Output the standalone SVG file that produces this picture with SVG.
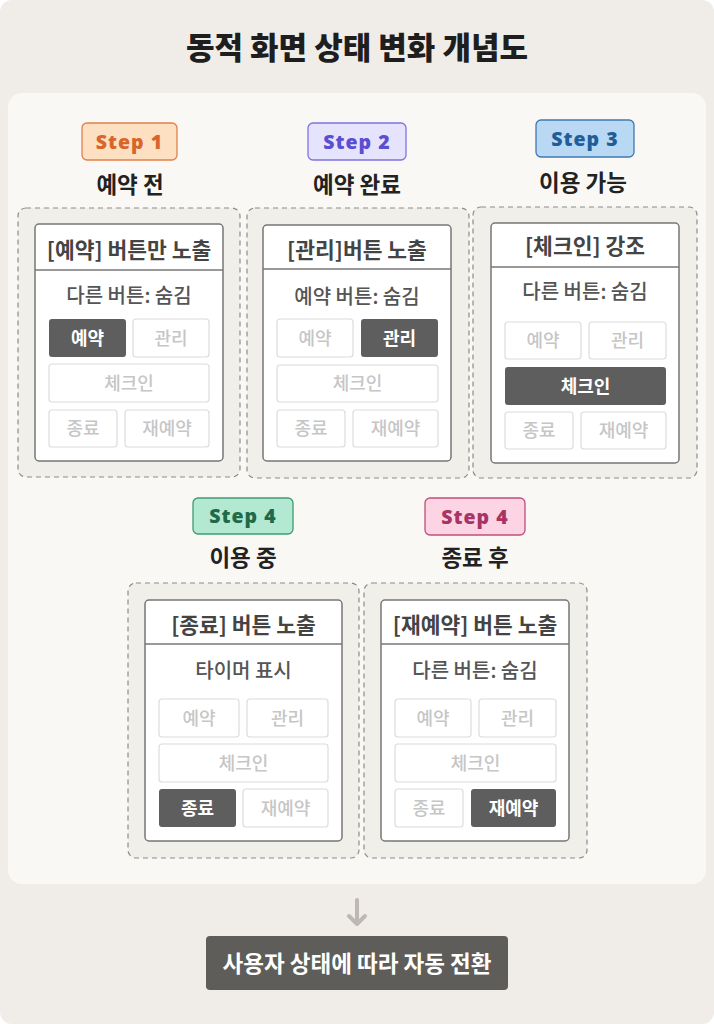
<svg xmlns="http://www.w3.org/2000/svg" width="714" height="1024" viewBox="0 0 714 1024">
<style>
.kr{font-family:"Noto Sans CJK KR","Noto Sans",sans-serif}
.title{font-size:31px;font-weight:800;fill:#1e1e1e;text-anchor:middle}
.step{font-family:"Open Sans","Noto Sans",sans-serif;font-size:19.5px;font-weight:800;text-anchor:middle;letter-spacing:1px}
.lbl{font-size:22.5px;font-weight:700;fill:#222;text-anchor:middle}
.dash{fill:#f1efea;stroke:#8c8c8c;stroke-width:1.2;stroke-dasharray:5 4}
.card{fill:#fff;stroke:#777;stroke-width:1.5}
.div{stroke:#777;stroke-width:1.5}
.hdr{font-size:21.5px;font-weight:600;fill:#444;text-anchor:middle}
.sub{font-size:20px;font-weight:500;fill:#555;text-anchor:middle}
.off{fill:#fff;stroke:#dcdcdc;stroke-width:1.2}
.on{fill:#5e5e5e}
.toff{font-size:18px;font-weight:500;fill:#c6c6c6;text-anchor:middle}
.ton{font-size:18px;font-weight:700;fill:#fff;text-anchor:middle}
</style>
<rect x="0" y="0" width="714" height="1024" fill="#ffffff"/>
<rect x="0" y="0" width="714" height="1024" rx="12" fill="#f0ede8"/>
<text class="kr title" x="357" y="59">동적 화면 상태 변화 개념도</text>
<rect x="8" y="93" width="698" height="791" rx="14" fill="#f9f8f4"/>

<g id="node-step1">
<rect x="82" y="123" width="95" height="37" rx="5" fill="#fde0c2" stroke="#e0804a" stroke-width="1.3"/>
<text class="step" x="129.5" y="148.5" fill="#d8662c">Step 1</text>
<text class="kr lbl" x="130" y="193">예약 전</text>
<rect class="dash" x="18" y="208" width="222" height="269" rx="8"/>
<rect class="card" x="35" y="224" width="188" height="237" rx="4"/>
<line class="div" x1="35" y1="270" x2="223" y2="270"/>
<text class="kr hdr" x="129" y="258">[예약] 버튼만 노출</text>
<text class="kr sub" x="129" y="303">다른 버튼: 숨김</text>
<rect class="on" x="49" y="319" width="77" height="38" rx="3"/><text class="kr ton" x="87.5" y="344.5">예약</text>
<rect class="off" x="133" y="319" width="76" height="38" rx="3"/><text class="kr toff" x="171" y="344.5">관리</text>
<rect class="off" x="49" y="364" width="160" height="38" rx="3"/><text class="kr toff" x="129" y="389.5">체크인</text>
<rect class="off" x="49" y="410" width="68" height="37" rx="3"/><text class="kr toff" x="83" y="435">종료</text>
<rect class="off" x="125" y="410" width="84" height="37" rx="3"/><text class="kr toff" x="167" y="435">재예약</text>
</g>

<g id="node-step2">
<rect x="308" y="123" width="98" height="37" rx="5" fill="#e6e4fd" stroke="#7f72e0" stroke-width="1.3"/>
<text class="step" x="357" y="148.5" fill="#5a4ed2">Step 2</text>
<text class="kr lbl" x="357" y="193">예약 완료</text>
<rect class="dash" x="247" y="208" width="222" height="270" rx="8"/>
<rect class="card" x="263" y="225" width="188" height="236" rx="4"/>
<line class="div" x1="263" y1="269" x2="451" y2="269"/>
<text class="kr hdr" x="357" y="258">[관리]버튼 노출</text>
<text class="kr sub" x="357" y="304">예약 버튼: 숨김</text>
<rect class="off" x="277" y="319" width="76" height="38" rx="3"/><text class="kr toff" x="315" y="344.5">예약</text>
<rect class="on" x="361" y="319" width="77" height="38" rx="3"/><text class="kr ton" x="399.5" y="344.5">관리</text>
<rect class="off" x="277" y="365" width="161" height="37" rx="3"/><text class="kr toff" x="357.5" y="390">체크인</text>
<rect class="off" x="277" y="410" width="68" height="37" rx="3"/><text class="kr toff" x="311" y="435">종료</text>
<rect class="off" x="353" y="410" width="85" height="37" rx="3"/><text class="kr toff" x="395.5" y="435">재예약</text>
</g>

<g id="node-step3">
<rect x="536" y="120" width="98" height="37" rx="5" fill="#b9d8f4" stroke="#3f79b0" stroke-width="1.3"/>
<text class="step" x="585" y="145.5" fill="#1f5e98">Step 3</text>
<text class="kr lbl" x="583" y="191">이용 가능</text>
<rect class="dash" x="473" y="207" width="224" height="271" rx="8"/>
<rect class="card" x="491" y="223" width="188" height="240" rx="4"/>
<line class="div" x1="491" y1="267" x2="679" y2="267"/>
<text class="kr hdr" x="585" y="254">[체크인] 강조</text>
<text class="kr sub" x="585" y="299">다른 버튼: 숨김</text>
<rect class="off" x="505" y="322" width="76" height="37" rx="3"/><text class="kr toff" x="543" y="347">예약</text>
<rect class="off" x="589" y="322" width="77" height="37" rx="3"/><text class="kr toff" x="627.5" y="347">관리</text>
<rect class="on" x="505" y="367" width="161" height="38" rx="3"/><text class="kr ton" x="585.5" y="392.5">체크인</text>
<rect class="off" x="505" y="412" width="68" height="37" rx="3"/><text class="kr toff" x="539" y="437">종료</text>
<rect class="off" x="581" y="412" width="85" height="37" rx="3"/><text class="kr toff" x="623.5" y="437">재예약</text>
</g>

<g id="node-step4a">
<rect x="193" y="498" width="100" height="36" rx="5" fill="#b3e8d3" stroke="#3f9a72" stroke-width="1.3"/>
<text class="step" x="243" y="523" fill="#1e6a49">Step 4</text>
<text class="kr lbl" x="243" y="566">이용 중</text>
<rect class="dash" x="128" y="583" width="231" height="275" rx="8"/>
<rect class="card" x="145" y="600" width="197" height="241" rx="4"/>
<line class="div" x1="145" y1="644" x2="342" y2="644"/>
<text class="kr hdr" x="243.5" y="633">[종료] 버튼 노출</text>
<text class="kr sub" x="243.5" y="678">타이머 표시</text>
<rect class="off" x="159" y="699" width="80" height="38" rx="3"/><text class="kr toff" x="199" y="724.5">예약</text>
<rect class="off" x="247" y="699" width="81" height="38" rx="3"/><text class="kr toff" x="287.5" y="724.5">관리</text>
<rect class="off" x="159" y="744" width="169" height="38" rx="3"/><text class="kr toff" x="243.5" y="769.5">체크인</text>
<rect class="on" x="159" y="789" width="77" height="38" rx="3"/><text class="kr ton" x="197.5" y="814.5">종료</text>
<rect class="off" x="243" y="789" width="85" height="38" rx="3"/><text class="kr toff" x="285.5" y="814.5">재예약</text>
</g>

<g id="node-step4b">
<rect x="425" y="498" width="100" height="37" rx="5" fill="#fcd4e3" stroke="#c24c7c" stroke-width="1.3"/>
<text class="step" x="475" y="523.5" fill="#a73463">Step 4</text>
<text class="kr lbl" x="475" y="566">종료 후</text>
<rect class="dash" x="364" y="583" width="223" height="275" rx="8"/>
<rect class="card" x="381" y="600" width="188" height="241" rx="4"/>
<line class="div" x1="381" y1="644" x2="569" y2="644"/>
<text class="kr hdr" x="475" y="633">[재예약] 버튼 노출</text>
<text class="kr sub" x="475" y="678">다른 버튼: 숨김</text>
<rect class="off" x="395" y="699" width="76" height="38" rx="3"/><text class="kr toff" x="433" y="724.5">예약</text>
<rect class="off" x="479" y="699" width="77" height="38" rx="3"/><text class="kr toff" x="517.5" y="724.5">관리</text>
<rect class="off" x="395" y="744" width="161" height="38" rx="3"/><text class="kr toff" x="475.5" y="769.5">체크인</text>
<rect class="off" x="395" y="789" width="68" height="38" rx="3"/><text class="kr toff" x="429" y="814.5">종료</text>
<rect class="on" x="471" y="789" width="85" height="38" rx="3"/><text class="kr ton" x="513.5" y="814.5">재예약</text>
</g>

<g id="connectors">
<path d="M357 900 L357 924 M349 916 L357 924 L365 916" fill="none" stroke="#bdb9b2" stroke-width="4" stroke-linecap="round" stroke-linejoin="round"/>
</g>

<g id="node-result">
<rect x="206" y="936" width="302" height="54" rx="4" fill="#5e5d59"/>
<text class="kr" x="357" y="971.5" font-size="22.5" font-weight="700" fill="#fff" text-anchor="middle">사용자 상태에 따라 자동 전환</text>
</g>
</svg>
